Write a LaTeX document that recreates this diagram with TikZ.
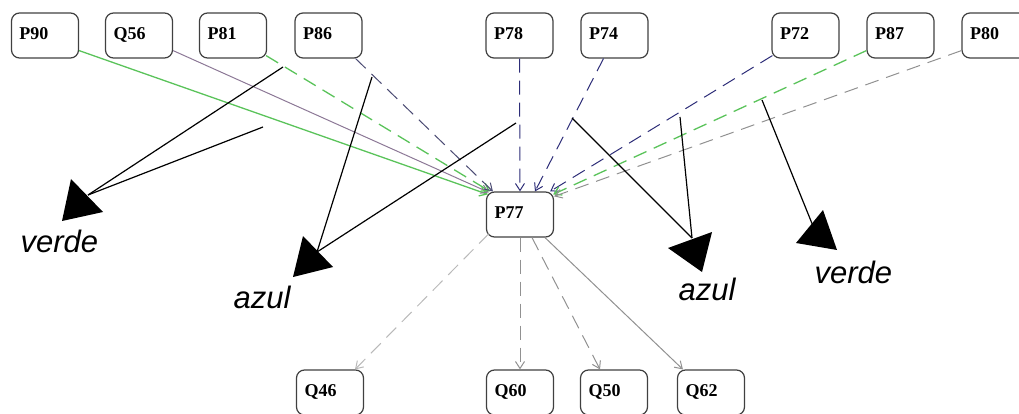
\documentclass[tikz,border=0pt]{standalone}
\usepackage{fontspec}
\setmainfont{Liberation Serif}
\newfontfamily\labelfont{Liberation Sans}
\usetikzlibrary{arrows.meta}

\definecolor{greenE}{RGB}{90,195,90}
\definecolor{navyE}{RGB}{45,45,120}
\definecolor{slateE}{RGB}{75,75,115}
\definecolor{mauveE}{RGB}{140,120,150}
\definecolor{greyE}{RGB}{145,145,145}
\definecolor{lightE}{RGB}{185,185,185}

\tikzset{
  box/.style={draw=black!75, line width=1.2pt, rounded corners=8pt,
    minimum height=45pt, text width=51pt, align=left,
    inner xsep=8pt, inner ysep=0pt,
    execute at begin node=\strut,
    font=\bfseries\fontsize{18}{20}\selectfont},
  edge/.style={line width=1pt, -{Straight Barb[length=7pt,width=9pt]}},
  dashedge/.style={edge, dash pattern=on 14pt off 8pt},
  note/.style={black, line width=1.2pt},
  tag/.style={anchor=base west, font=\labelfont\itshape\fontsize{31}{31}\selectfont}
}

\begin{document}
\begin{tikzpicture}[x=1pt, y=-1pt]
\useasboundingbox (0,0) rectangle (1019,414);

% top row
\node[box] (P90) at (45,35.5) {P90};
\node[box] (Q56) at (139,35.5) {Q56};
\node[box] (P81) at (233,35.5) {P81};
\node[box] (P86) at (328.5,35.5) {P86};
\node[box] (P78) at (519.5,35.5) {P78};
\node[box] (P74) at (614.5,35.5) {P74};
\node[box] (P72) at (805.5,35.5) {P72};
\node[box] (P87) at (900.5,35.5) {P87};
\node[box] (P80) at (995.5,35.5) {P80};

% centre
\node[box] (P77) at (520,214.5) {P77};

% bottom row
\node[box] (Q46) at (330,392.5) {Q46};
\node[box] (Q60) at (520,392.5) {Q60};
\node[box] (Q50) at (614,392.5) {Q50};
\node[box] (Q62) at (711,392.5) {Q62};

% incoming edges
\draw[edge, greenE, line width=1.3pt] ([yshift=8pt]P90.south east) -- ([xshift=2pt,yshift=-3pt]P77.north west);
\draw[edge, mauveE] ([yshift=8pt]Q56.south east) -- ([xshift=3pt,yshift=-1pt]P77.north west);
\draw[dashedge, greenE, line width=1.3pt] ([xshift=-1pt,yshift=3pt]P81.south east) -- ([xshift=4pt]P77.north west);
\draw[dashedge, slateE] ([xshift=-7pt]P86.south east) -- ([xshift=7pt]P77.north west);
\draw[dashedge, navyE] (P78.south) -- (P77.north);
\draw[dashedge, navyE] ([xshift=-11pt]P74.south) -- ([xshift=15pt]P77.north);
\draw[dashedge, navyE] ([xshift=1pt,yshift=3pt]P72.south west) -- ([xshift=-4pt]P77.north east);
\draw[dashedge, greenE, line width=1.3pt] ([yshift=8pt]P87.south west) -- ([xshift=-1pt,yshift=-3pt]P77.north east);
\draw[dashedge, greyE] ([yshift=8pt]P80.south west) -- ([yshift=-5pt]P77.north east);

% outgoing edges
\draw[dashedge, lightE] ([xshift=3pt,yshift=4pt]P77.south west) -- ([xshift=25pt]Q46.north);
\draw[dashedge, greyE] (P77.south) -- (Q60.north);
\draw[dashedge, greyE] ([xshift=12pt]P77.south) -- ([xshift=-14pt]Q50.north);
\draw[edge, greyE] ([xshift=25pt]P77.south) -- ([xshift=6pt]Q62.north west);

% annotation pointers
\coordinate (lv1) at (283,67);
\coordinate (lv2) at (263,127);
\coordinate (lvt) at (88,195);
\coordinate (la1) at (372,77);
\coordinate (la2) at (516,123);
\coordinate (lat) at (317,252);
\coordinate (ra1) at (572,118);
\coordinate (ra2) at (680,117);
\coordinate (rat) at (692,238);
\coordinate (rv1) at (762,100);
\coordinate (rvt) at (813,226);

\draw[note] (lv1) -- (lvt);
\draw[note] (lv2) -- (lvt);
\fill (71,179) -- (62,221) -- (103,212) -- cycle;

\draw[note] (la1) -- (lat);
\draw[note] (la2) -- (lat);
\fill (303,236) -- (293,277) -- (333,267) -- cycle;

\draw[note] (ra1) -- (rat);
\draw[note] (ra2) -- (rat);
\fill (668,248) -- (712,232) -- (702,272) -- cycle;

\draw[note] (rv1) -- (rvt);
\fill (823,210) -- (796,243) -- (837,250) -- cycle;

% labels
\node[tag] (tv1) at (17,252) {verde};
\node[tag] (ta1) at (230,308) {azul};
\node[tag] (ta2) at (675,300) {azul};
\node[tag] (tv2) at (811,283) {verde};
\end{tikzpicture}
\end{document}
